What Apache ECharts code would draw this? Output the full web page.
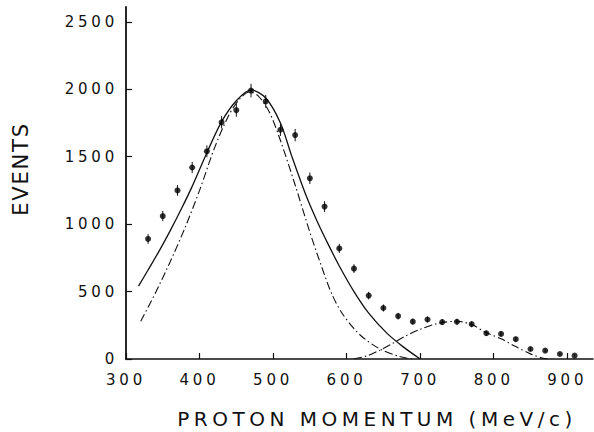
<!DOCTYPE html>
<html>
<head>
<meta charset="utf-8">
<script src="https://cdn.jsdelivr.net/npm/echarts@6/dist/echarts.min.js"></script>
<style>
  html, body { margin: 0; padding: 0; background: #fff; }
  #chart { width: 594px; height: 432px; }
</style>
</head>
<body>
<div id="chart"></div>
<script>
// ---- data ----
const momentum = [330,350,370,390,410,430,450,470,490,510,530,550,570,590,610,630,650,670,690,710,730,750,770,790,810,830,850,870,890,910];
const events   = [890,1060,1250,1420,1540,1755,1845,1990,1910,1700,1660,1340,1130,820,670,470,378,318,277,293,274,276,258,191,186,147,74,62,37,25];
const errors   = [36,38,40,42,44,46,48,50,48,46,46,42,40,34,32,28,26,24,22,22,22,22,22,20,20,18,14,12,10,8];

const fitX   = [317,330,345,360,375,390,410,430,450,470,490,510,525,545,560,575,590,610,630,655,677,700];
const fitY   = [540,660,800,950,1110,1280,1530,1760,1915,1995,1935,1750,1510,1210,1020,850,690,500,340,190,90,0];

const comp1X = [320,340,360,380,400,420,440,455,468,480,495,510,530,550,565,580,595,618,645,672,690];
const comp1Y = [280,490,720,970,1250,1560,1810,1930,1980,1950,1830,1620,1290,940,700,480,330,180,75,18,0];

const comp2X = [610,627,645,663,680,700,725,750,770,790,810,830,850,867,875];
const comp2Y = [0,22,65,117,170,220,265,280,255,195,150,92,38,5,0];

const xTicks = [300,400,500,600,700,800,900];
const yTicks = [0,500,1000,1500,2000,2500];

const xTitle = 'PROTON MOMENTUM (MeV/c)';
const yTitle = 'EVENTS';

// ---- chart ----
const FONT = '"DejaVu Sans", "Liberation Sans", sans-serif';
const INK = '#111';
const zip = (a, b) => a.map((v, i) => [v, b[i]]);
const plain = v => String(v);

const chart = echarts.init(document.getElementById('chart'), null, { renderer: 'svg' });

chart.setOption({
  animation: false,
  backgroundColor: '#fff',
  grid: { left: 126, top: 7, width: 467, height: 352, containLabel: false },
  xAxis: {
    type: 'value', min: 300, max: 935,
    axisLine: { show: true, lineStyle: { color: INK, width: 1.5 } },
    axisTick: { show: true, inside: true, length: 6, customValues: xTicks, lineStyle: { color: INK, width: 1.2 } },
    axisLabel: { customValues: xTicks, formatter: plain, margin: 13, fontSize: 15, fontFamily: FONT, color: INK },
    splitLine: { show: false }
  },
  yAxis: {
    type: 'value', min: 0, max: 2610,
    axisLine: { show: true, lineStyle: { color: INK, width: 1.8 } },
    axisTick: { show: true, inside: true, length: 6, customValues: yTicks, lineStyle: { color: INK, width: 1.2 } },
    axisLabel: { customValues: yTicks, formatter: plain, margin: 8, fontSize: 15, fontFamily: FONT, color: INK },
    splitLine: { show: false }
  },
  graphic: [
    { type: 'text', x: 377, y: 419, style: { text: xTitle, textAlign: 'center', textVerticalAlign: 'middle', font: '20px ' + FONT, fill: INK } },
    { type: 'text', x: 21, y: 169, rotation: Math.PI / 2, style: { text: yTitle, textAlign: 'center', textVerticalAlign: 'middle', font: '21px ' + FONT, fill: INK } }
  ],
  series: [
    {
      type: 'line', name: 'fit', data: zip(fitX, fitY), smooth: 0.3, showSymbol: false,
      lineStyle: { color: INK, width: 1.3 }, z: 3
    },
    {
      type: 'line', name: 'component 1', data: zip(comp1X, comp1Y), smooth: 0.3, showSymbol: false,
      lineStyle: { color: INK, width: 1.1, type: [8, 3, 1.5, 3] }, z: 3
    },
    {
      type: 'line', name: 'component 2', data: zip(comp2X, comp2Y), smooth: 0.3, showSymbol: false,
      lineStyle: { color: INK, width: 1.1, type: [8, 3, 1.5, 3] }, z: 3
    },
    {
      type: 'custom', name: 'errors',
      data: momentum.map((m, i) => [m, events[i], errors[i]]),
      encode: { x: 0, y: 1 },
      renderItem: function (params, api) {
        const x = api.value(0), y = api.value(1), e = api.value(2);
        const p1 = api.coord([x, y - e]);
        const p2 = api.coord([x, y + e]);
        return { type: 'line', shape: { x1: p1[0], y1: p1[1], x2: p2[0], y2: p2[1] }, style: { stroke: INK, lineWidth: 1 } };
      },
      z: 4
    },
    {
      type: 'scatter', name: 'data', data: zip(momentum, events), symbol: 'circle', symbolSize: 6,
      itemStyle: { color: '#000' }, z: 5
    }
  ]
});

function spaceLetters() {
  document.querySelectorAll('#chart text').forEach(t => {
    const s = t.textContent;
    if (s === xTitle) t.style.letterSpacing = '4.5px';
    else if (s === yTitle) t.style.letterSpacing = '1.8px';
    else t.style.letterSpacing = '3.8px';
  });
}
chart.on('finished', spaceLetters);
spaceLetters();
</script>
</body>
</html>
